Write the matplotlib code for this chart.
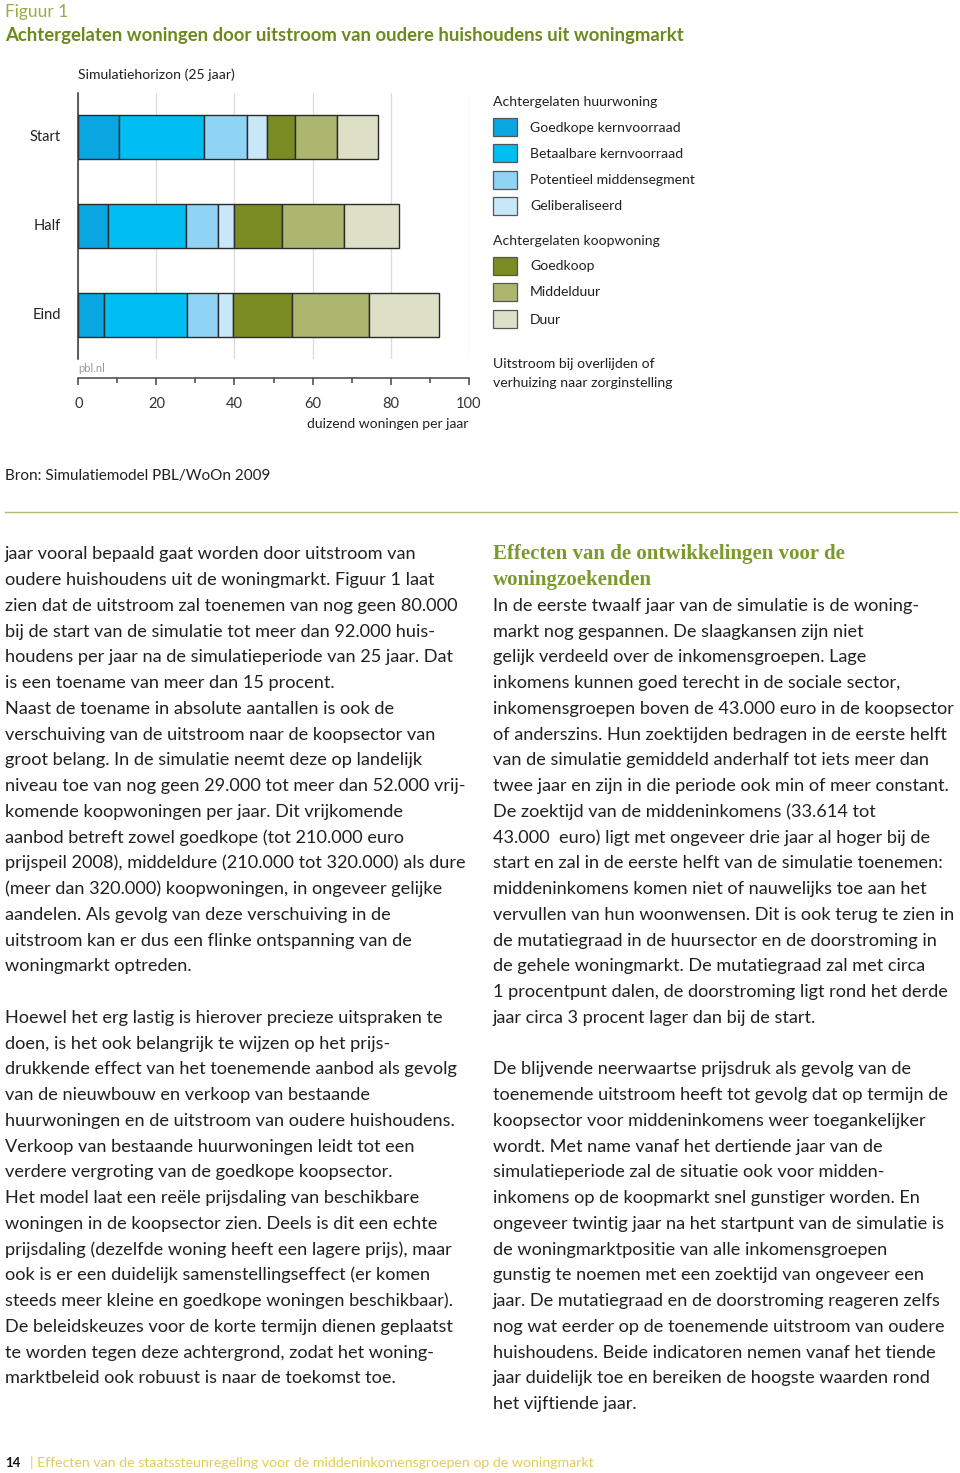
import numpy as np
import matplotlib
matplotlib.use("Agg")
import matplotlib.pyplot as plt
from matplotlib.patches import Rectangle
from matplotlib.lines import Line2D

# ---------------- data ----------------
periods = ["Start", "Half", "Eind"]
series_names = ["Goedkope kernvoorraad", "Betaalbare kernvoorraad",
                "Potentieel middensegment", "Geliberaliseerd",
                "Goedkoop", "Middelduur", "Duur"]
series_colors = ["#0aa6e2", "#00bef2", "#8fd4f5", "#c8e7f8",
                 "#7b8b23", "#adb66f", "#dde0c6"]
goedkope_kern = [10.3, 7.7, 6.7]
betaalbare_kern = [21.9, 19.8, 21.2]
potentieel_midden = [11.1, 8.2, 7.8]
geliberaliseerd = [5.0, 4.3, 4.0]
goedkoop = [7.3, 12.1, 15.1]
middelduur = [10.6, 15.9, 19.7]
duur = [10.6, 14.2, 17.8]
series_values = [goedkope_kern, betaalbare_kern, potentieel_midden,
                 geliberaliseerd, goedkoop, middelduur, duur]
legend_groups = ["Achtergelaten huurwoning", "Achtergelaten koopwoning"]
x_ticks = [0, 20, 40, 60, 80, 100]

fig_title_small = "Figuur 1"
fig_title = "Achtergelaten woningen door uitstroom van oudere huishoudens uit woningmarkt"
subtitle = "Simulatiehorizon (25 jaar)"
x_label = "duizend woningen per jaar"
note = ["Uitstroom bij overlijden of", "verhuizing naar zorginstelling"]
source = "Bron: Simulatiemodel PBL/WoOn 2009"

left_par1 = [
    "jaar vooral bepaald gaat worden door uitstroom van",
    "oudere huishoudens uit de woningmarkt. Figuur 1 laat",
    "zien dat de uitstroom zal toenemen van nog geen 80.000",
    "bij de start van de simulatie tot meer dan 92.000 huis-",
    "houdens per jaar na de simulatieperiode van 25 jaar. Dat",
    "is een toename van meer dan 15 procent.",
    "Naast de toename in absolute aantallen is ook de",
    "verschuiving van de uitstroom naar de koopsector van",
    "groot belang. In de simulatie neemt deze op landelijk",
    "niveau toe van nog geen 29.000 tot meer dan 52.000 vrij-",
    "komende koopwoningen per jaar. Dit vrijkomende",
    "aanbod betreft zowel goedkope (tot 210.000 euro",
    "prijspeil 2008), middeldure (210.000 tot 320.000) als dure",
    "(meer dan 320.000) koopwoningen, in ongeveer gelijke",
    "aandelen. Als gevolg van deze verschuiving in de",
    "uitstroom kan er dus een flinke ontspanning van de",
    "woningmarkt optreden.",
]
left_par2 = [
    "Hoewel het erg lastig is hierover precieze uitspraken te",
    "doen, is het ook belangrijk te wijzen op het prijs-",
    "drukkende effect van het toenemende aanbod als gevolg",
    "van de nieuwbouw en verkoop van bestaande",
    "huurwoningen en de uitstroom van oudere huishoudens.",
    "Verkoop van bestaande huurwoningen leidt tot een",
    "verdere vergroting van de goedkope koopsector.",
    "Het model laat een reële prijsdaling van beschikbare",
    "woningen in de koopsector zien. Deels is dit een echte",
    "prijsdaling (dezelfde woning heeft een lagere prijs), maar",
    "ook is er een duidelijk samenstellingseffect (er komen",
    "steeds meer kleine en goedkope woningen beschikbaar).",
    "De beleidskeuzes voor de korte termijn dienen geplaatst",
    "te worden tegen deze achtergrond, zodat het woning-",
    "marktbeleid ook robuust is naar de toekomst toe.",
]
right_heading = ["Effecten van de ontwikkelingen voor de", "woningzoekenden"]
right_par1 = [
    "In de eerste twaalf jaar van de simulatie is de woning-",
    "markt nog gespannen. De slaagkansen zijn niet",
    "gelijk verdeeld over de inkomensgroepen. Lage",
    "inkomens kunnen goed terecht in de sociale sector,",
    "inkomensgroepen boven de 43.000 euro in de koopsector",
    "of anderszins. Hun zoektijden bedragen in de eerste helft",
    "van de simulatie gemiddeld anderhalf tot iets meer dan",
    "twee jaar en zijn in die periode ook min of meer constant.",
    "De zoektijd van de middeninkomens (33.614 tot",
    "43.000  euro) ligt met ongeveer drie jaar al hoger bij de",
    "start en zal in de eerste helft van de simulatie toenemen:",
    "middeninkomens komen niet of nauwelijks toe aan het",
    "vervullen van hun woonwensen. Dit is ook terug te zien in",
    "de mutatiegraad in de huursector en de doorstroming in",
    "de gehele woningmarkt. De mutatiegraad zal met circa",
    "1 procentpunt dalen, de doorstroming ligt rond het derde",
    "jaar circa 3 procent lager dan bij de start.",
]
right_par2 = [
    "De blijvende neerwaartse prijsdruk als gevolg van de",
    "toenemende uitstroom heeft tot gevolg dat op termijn de",
    "koopsector voor middeninkomens weer toegankelijker",
    "wordt. Met name vanaf het dertiende jaar van de",
    "simulatieperiode zal de situatie ook voor midden-",
    "inkomens op de koopmarkt snel gunstiger worden. En",
    "ongeveer twintig jaar na het startpunt van de simulatie is",
    "de woningmarktpositie van alle inkomensgroepen",
    "gunstig te noemen met een zoektijd van ongeveer een",
    "jaar. De mutatiegraad en de doorstroming reageren zelfs",
    "nog wat eerder op de toenemende uitstroom van oudere",
    "huishoudens. Beide indicatoren nemen vanaf het tiende",
    "jaar duidelijk toe en bereiken de hoogste waarden rond",
    "het vijftiende jaar.",
]
footer_num = "14"
footer_text = "| Effecten van de staatssteunregeling voor de middeninkomensgroepen op de woningmarkt"

# ---------------- layout ----------------
W, H = 960, 1473
plt.rcParams['font.family'] = ['Lato', 'DejaVu Sans']
fig = plt.figure(figsize=(W / 100, H / 100), dpi=100)

def fx(x):
    return x / W

def fy(y):
    return 1 - y / H

TXT = "#231f20"
OLIVE = "#6c8a1c"

# titles
fig.text(fx(5), fy(17), fig_title_small, fontsize=12.5, color="#97ae45", va="baseline")
fig.text(fx(5), fy(41), fig_title, fontsize=13.3, color=OLIVE, fontweight="bold", va="baseline")
fig.text(fx(78), fy(79), subtitle, fontsize=10.1, color=TXT, va="baseline")

# main chart axes
x0, x1 = 78.3, 468.7
top, bot = 93, 359
ax = fig.add_axes([fx(x0), fy(bot), fx(x1) - fx(x0), (bot - top) / H])
ypos = np.arange(len(periods))
left = np.zeros(len(periods))
for name, vals, col in zip(series_names, series_values, series_colors):
    ax.barh(ypos, vals, left=left, height=0.5, color=col, edgecolor="#2b2b2b",
            linewidth=1.0, zorder=3)
    left = left + np.array(vals)
ax.set_xlim(0, 100)
ax.set_ylim(2.5, -0.5)
ax.set_xticks(x_ticks)
ax.set_yticks([])
ax.tick_params(axis="x", length=0, labelbottom=False)
ax.grid(axis="x", color="#dcdcdc", linewidth=0.9, zorder=0)
for s in ["top", "right", "bottom"]:
    ax.spines[s].set_visible(False)
ax.spines["left"].set_color("#333333")
ax.spines["left"].set_linewidth(1.1)
ax.spines["left"].set_zorder(4)
ax.patch.set_alpha(0)
for i, p in enumerate(periods):
    ax.text(-0.045, i, p, transform=ax.get_yaxis_transform(), ha="right",
            va="center", fontsize=10.5, color=TXT)

# bottom scale axes
ax2 = fig.add_axes([fx(x0), fy(377.7), fx(x1) - fx(x0), 0.0001])
ax2.set_xlim(0, 100)
ax2.set_xticks(x_ticks)
ax2.set_xticks(np.arange(10, 100, 20), minor=True)
ax2.set_yticks([])
for s in ["top", "right", "left"]:
    ax2.spines[s].set_visible(False)
ax2.spines["bottom"].set_color("#444444")
ax2.spines["bottom"].set_linewidth(1.1)
ax2.tick_params(axis="x", which="major", length=5, width=1.1, color="#444444",
                labelsize=10.5, labelcolor="#333333", pad=9)
ax2.tick_params(axis="x", which="minor", length=3.5, width=1.1, color="#444444")
ax2.patch.set_alpha(0)
fig.text(fx(78), fy(372), "pbl.nl", fontsize=8, color="#9a9a9a", va="baseline")
fig.text(fx(468.7), fy(428), x_label, fontsize=10, color=TXT, ha="right", va="baseline")

# legend
lx = 493
fig.text(fx(lx), fy(106), legend_groups[0], fontsize=10.1, color=TXT, va="baseline")
fig.text(fx(lx), fy(245), legend_groups[1], fontsize=10.1, color=TXT, va="baseline")
row_y = [127, 153, 180, 206, 266, 292, 319]
for name, col, yy in zip(series_names, series_colors, row_y):
    r = Rectangle((fx(lx), fy(yy + 8.5)), fx(24), 17 / H, transform=fig.transFigure,
                  facecolor=col, edgecolor="#555555", linewidth=0.9)
    fig.add_artist(r)
    fig.text(fx(530), fy(yy + 4.5), name, fontsize=10.1, color=TXT, va="baseline")
fig.text(fx(lx), fy(368), note[0], fontsize=10.1, color=TXT, va="baseline")
fig.text(fx(lx), fy(387), note[1], fontsize=10.1, color=TXT, va="baseline")

# source
fig.text(fx(5), fy(480), source, fontsize=11, color=TXT, va="baseline")

# horizontal rule
fig.add_artist(Line2D([fx(5), fx(957)], [fy(512), fy(512)], transform=fig.transFigure,
                      color="#b5ba72", linewidth=1.0))

# body text
base0 = 559.3
lh = 25.75
BODY = 13.1

def put_lines(lines, x, row0, **kw):
    for i, line in enumerate(lines):
        fig.text(fx(x), fy(base0 + (row0 + i) * lh), line, va="baseline", **kw)

put_lines(left_par1, 5, 0, fontsize=BODY, color=TXT)
put_lines(left_par2, 5, 18, fontsize=BODY, color=TXT)
put_lines(right_heading, 493, 0, fontsize=15.0, color="#7b9a2c", fontweight="bold",
          family=["Liberation Serif", "DejaVu Serif"])
put_lines(right_par1, 493, 2, fontsize=BODY, color=TXT)
put_lines(right_par2, 493, 20, fontsize=BODY, color=TXT)

# footer
fig.text(fx(5), fy(1467), footer_num, fontsize=9.5, color="#111111", fontweight="bold", va="baseline")
fig.text(fx(30), fy(1467), footer_text, fontsize=10.2, color="#e4cc55", va="baseline")

fig.savefig("out.png", dpi=100)
